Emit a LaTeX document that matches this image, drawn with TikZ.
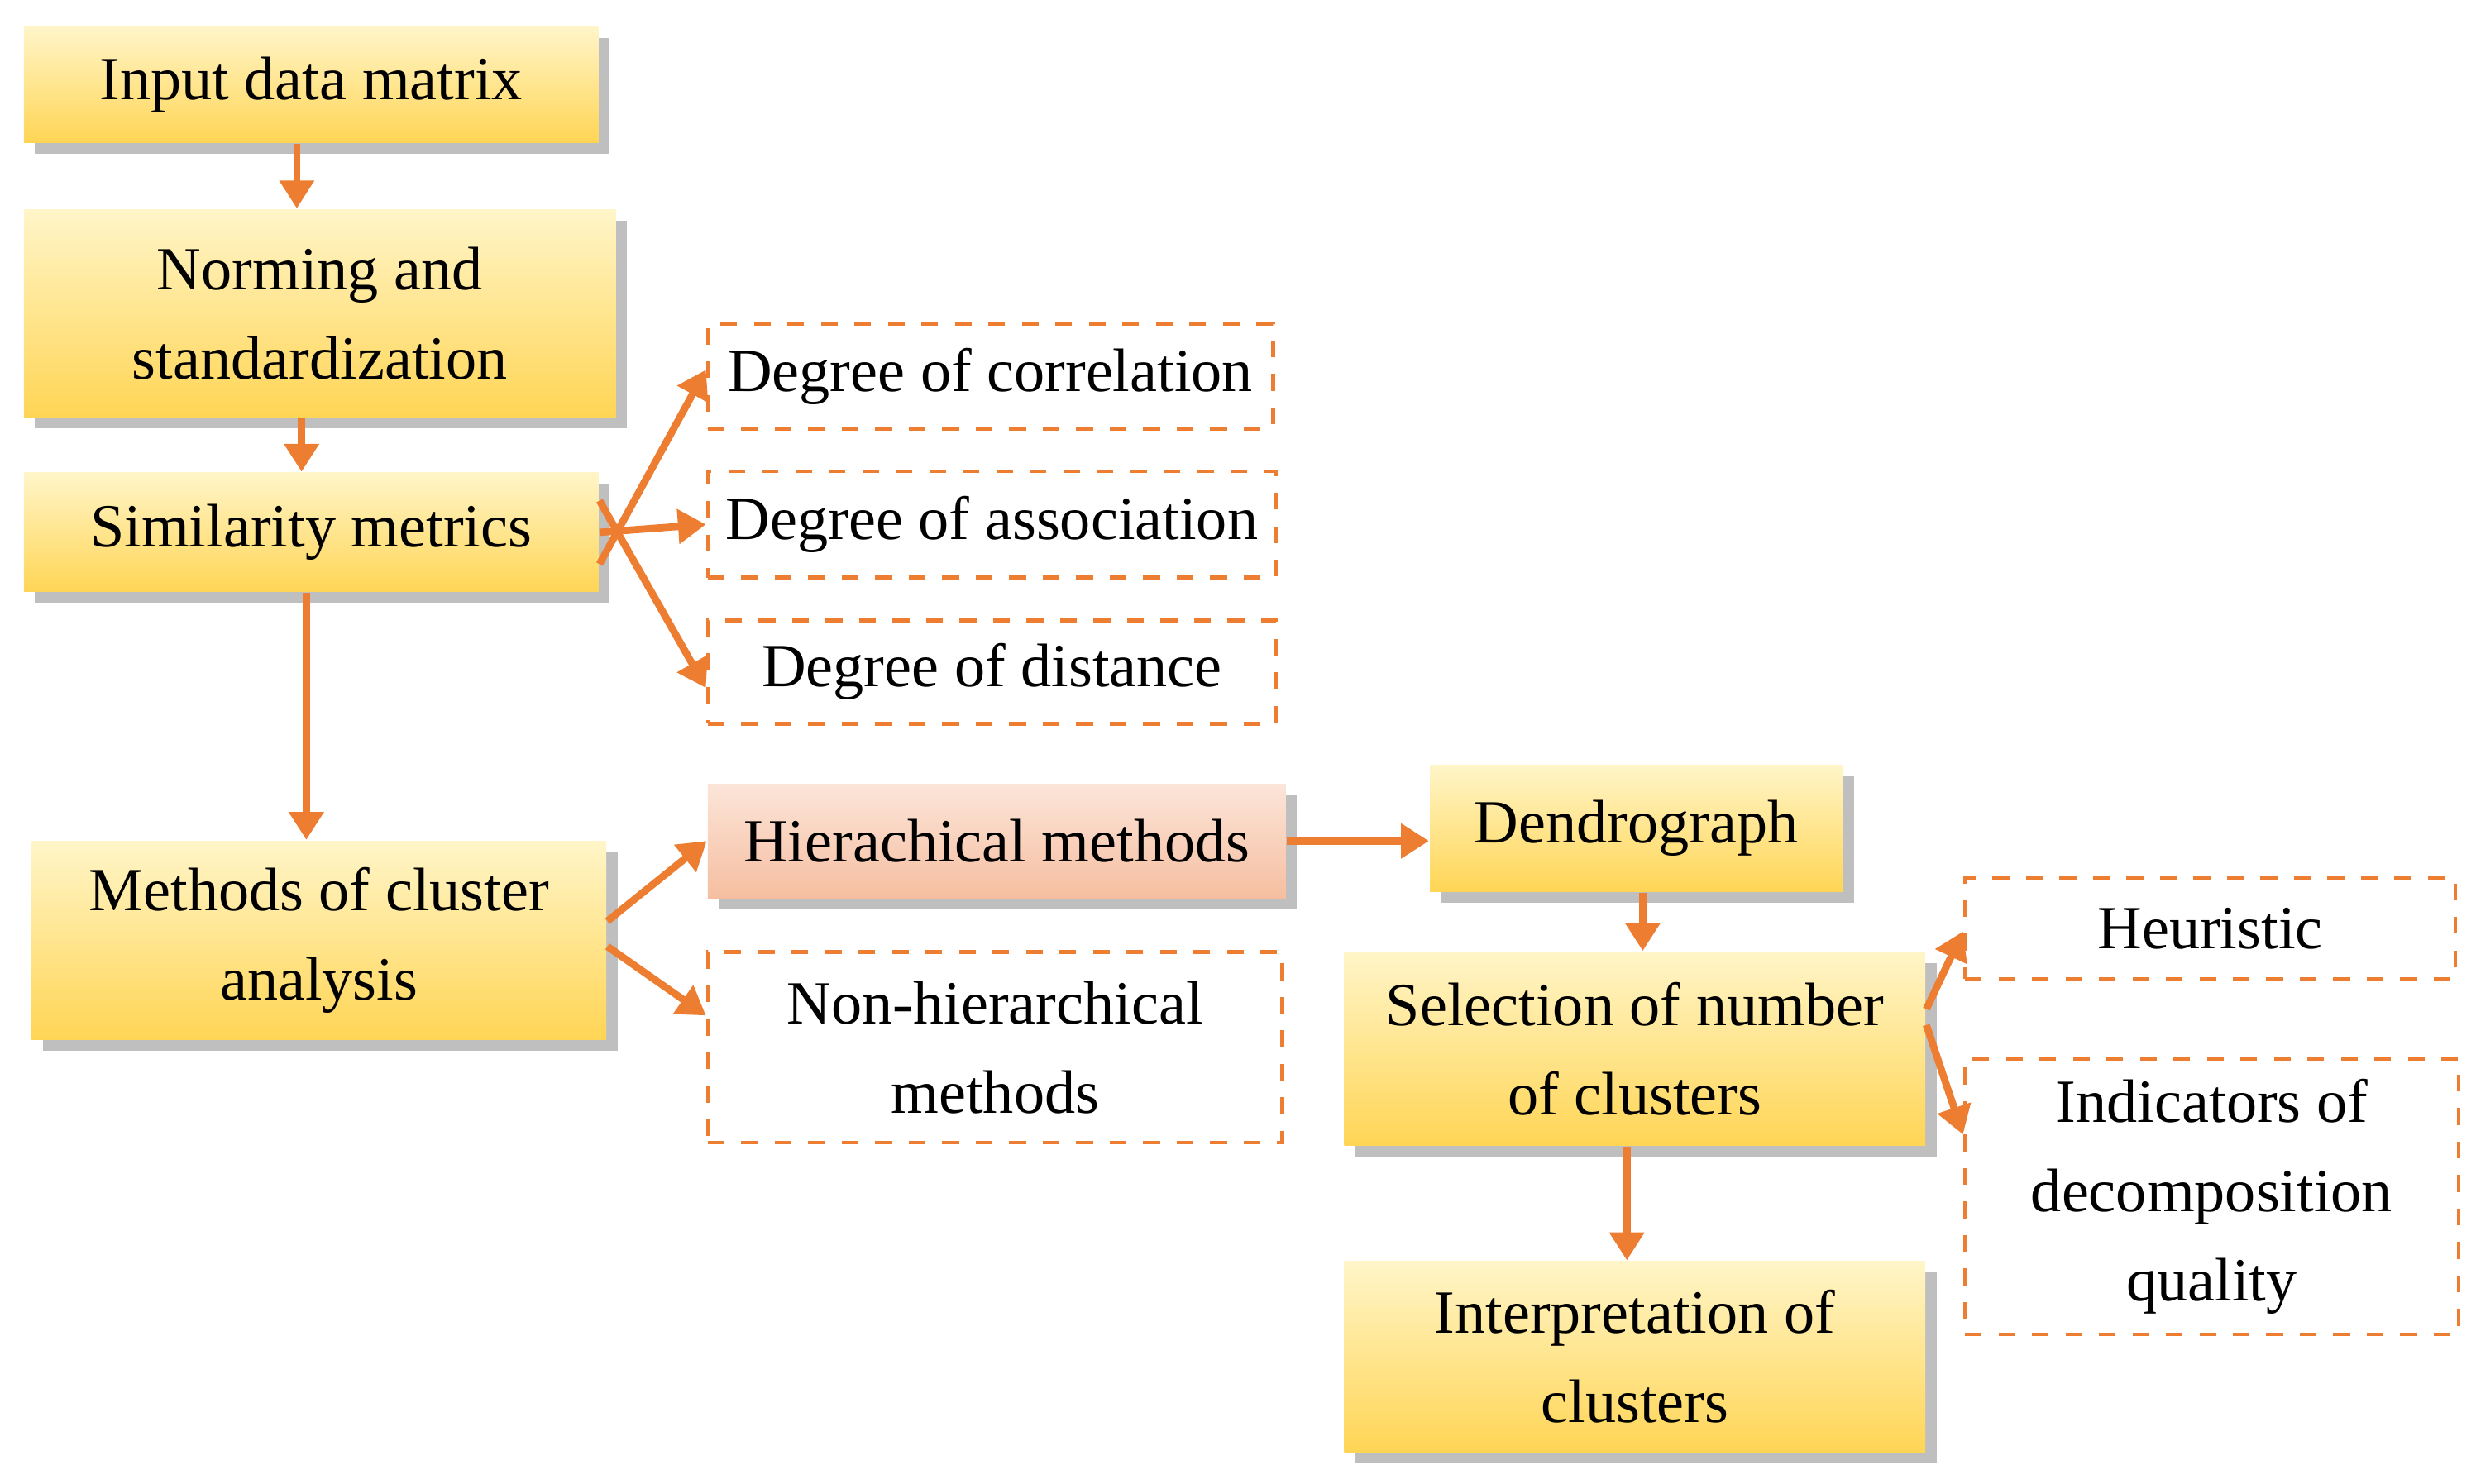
\documentclass[tikz,border=0pt]{standalone}
\usepackage{fontspec}
\setmainfont{Liberation Serif}
\usetikzlibrary{arrows.meta,shadows}
\definecolor{arr}{RGB}{237,125,49}
\definecolor{gold}{RGB}{255,213,85}
\definecolor{lgold}{RGB}{255,245,200}
\definecolor{sal}{RGB}{246,190,160}
\begin{document}
\begin{tikzpicture}[x=0.01cm,y=-0.01cm,
  box/.style={draw=none,align=center,font=\fontsize{11}{16}\selectfont,inner sep=0pt,
    top color=lgold,bottom color=gold,drop shadow={shadow xshift=2pt,shadow yshift=-2pt,opacity=0.5}},
  dbox/.style={draw=arr,dashed,line width=0.7pt,align=center,font=\fontsize{11}{16}\selectfont,inner sep=0pt,fill=white},
  ar/.style={draw=arr,line width=1.3pt,-{Triangle[length=5pt,width=6pt]}}]
\useasboundingbox (0,0) rectangle (1560,935);
\newcommand{\bx}[7]{\node[#1,minimum width=#4*0.01cm-#2*0.01cm,minimum height=#5*0.01cm-#3*0.01cm] (#6) at ({(#2+#4)/2},{(#3+#5)/2}) {#7};}
\bx{box}{15}{17}{377}{90}{inp}{Input data matrix}
\bx{box}{15}{132}{388}{263}{norm}{Norming and\\standardization}
\bx{box}{15}{298}{377}{373}{sim}{Similarity metrics}
\bx{box}{20}{530}{382}{655}{meth}{Methods of cluster\\analysis}
\bx{dbox}{446}{204}{802}{270}{cor}{Degree of correlation}
\bx{dbox}{446}{297}{804}{364}{ass}{Degree of association}
\bx{dbox}{446}{391}{804}{456}{dist}{Degree of distance}
\bx{box,top color=sal!40,bottom color=sal}{446}{494}{810}{566}{hier}{Hierachical methods}
\bx{dbox}{446}{600}{808}{720}{non}{Non-hierarchical\\methods}
\bx{box}{901}{482}{1161}{562}{den}{Dendrograph}
\bx{box}{847}{600}{1213}{722}{sel}{Selection of number\\of clusters}
\bx{box}{847}{795}{1213}{915}{int}{Interpretation of\\clusters}
\bx{dbox}{1238}{553}{1547}{617}{heu}{Heuristic}
\bx{dbox}{1238}{667}{1549}{841}{ind}{Indicators of\\decomposition\\quality}
\draw[ar] (inp.south -| 187,0) -- (norm.north -| 187,0);
\draw[ar] (norm.south -| 190,0) -- (sim.north -| 190,0);
\draw[ar] (sim.south -| 193,0) -- (meth.north -| 193,0);
\draw[ar] ([yshift=-0.2cm]sim.east) -- ([yshift=0.04cm]cor.west);
\draw[ar] (sim.east) -- (ass.west);
\draw[ar] ([yshift=0.2cm]sim.east) -- ([yshift=-0.1cm]dist.west);
\draw[ar] ([yshift=0.12cm]meth.east) -- ([yshift=0cm]hier.west);
\draw[ar] ([yshift=-0.04cm]meth.east) -- ([yshift=0.2cm]non.west);
\draw[ar] (hier.east) -- (hier.east -| den.west);
\draw[ar] (den.south -| 1035,0) -- (sel.north -| 1035,0);
\draw[ar] (sel.south -| 1025,0) -- (int.north -| 1025,0);
\draw[ar] ([yshift=0.25cm]sel.east) -- ([yshift=-0.02cm]heu.west);
\draw[ar] ([yshift=0.15cm]sel.east) -- ([yshift=0.39cm]ind.west);
\end{tikzpicture}
\end{document}
